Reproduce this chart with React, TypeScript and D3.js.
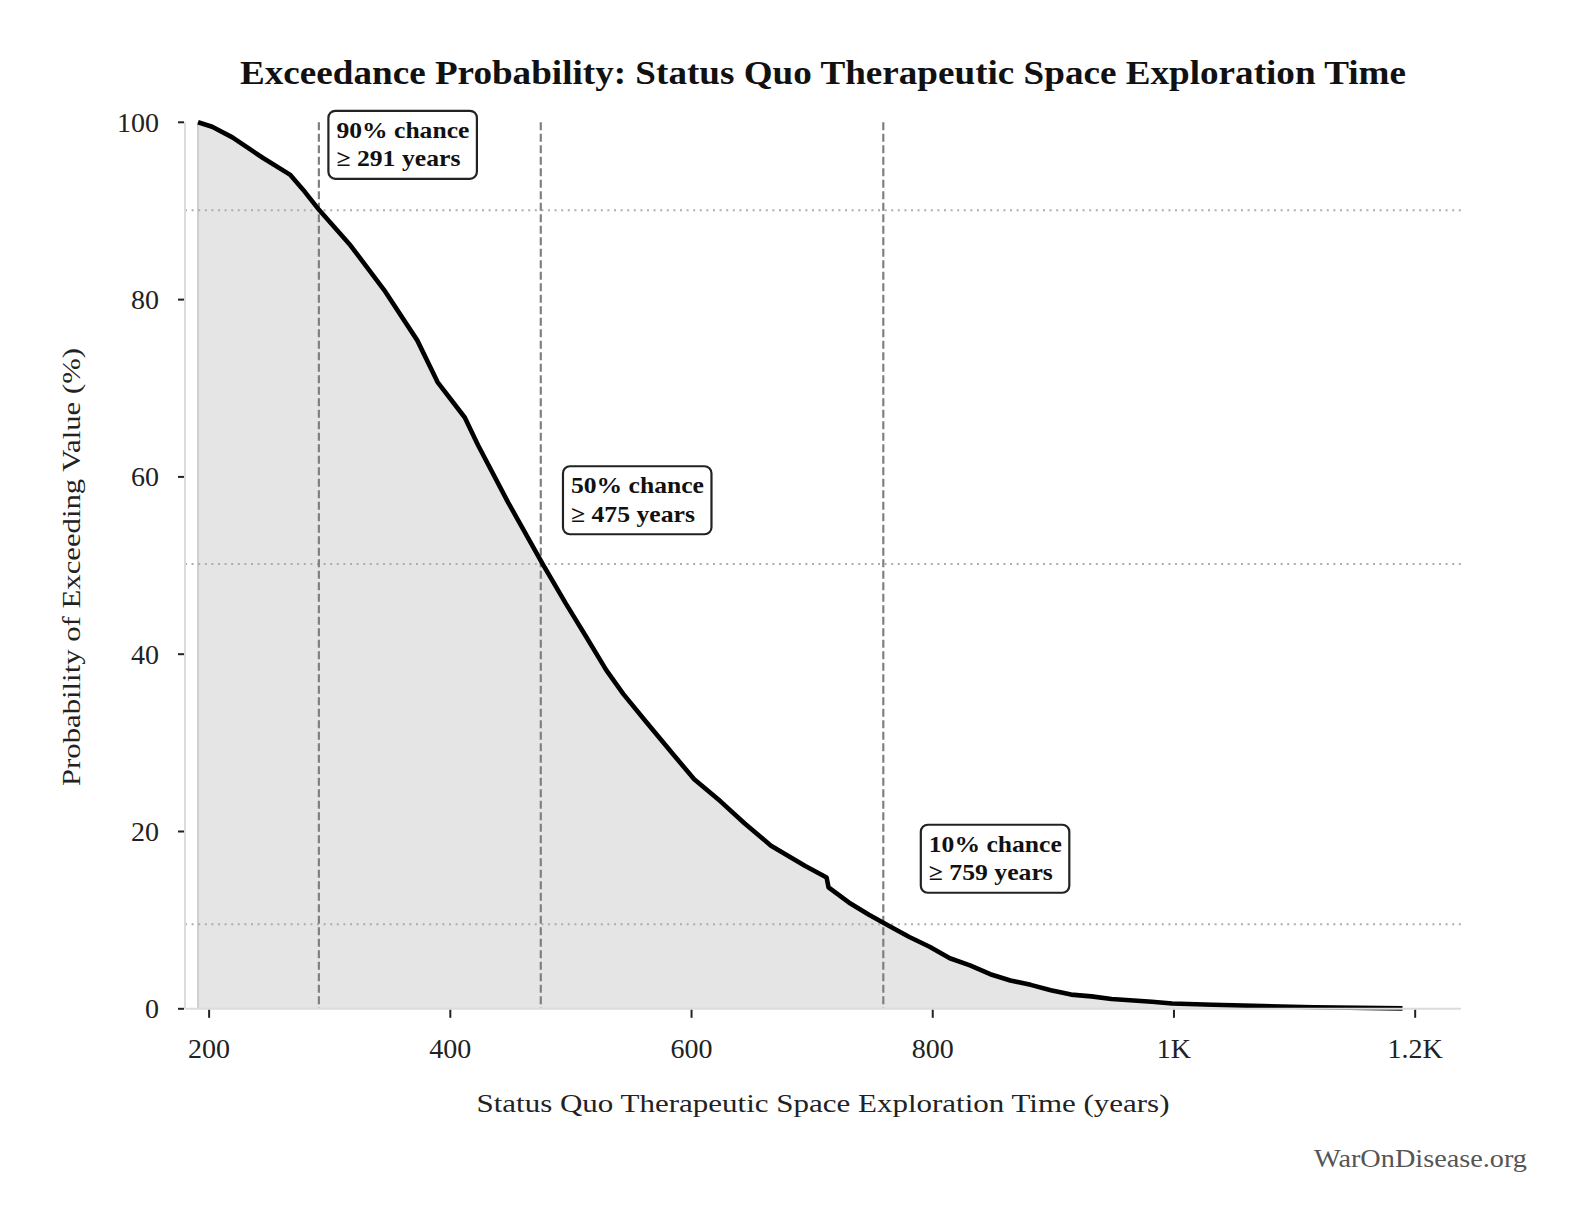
import React, { useEffect, useRef } from 'react';
import * as d3 from 'd3';

// Exceedance curve (years, % exceeding)
const years = [
  190.8, 202.5, 219.3, 244.4, 267.0, 277.9, 291.3, 317.3, 345.0, 372.6,
  389.4, 412.0, 422.9, 448.0, 476.5, 495.8, 512.5, 529.3, 543.5, 562.8,
  585.4, 602.2, 624.0, 644.1, 665.9, 694.3, 712.0, 713.6, 730.4, 747.1,
  760.5, 780.6, 797.4, 814.2, 830.9, 847.7, 864.4, 881.2, 897.9, 914.7,
  931.5, 948.2, 981.7, 998.5, 1032, 1074, 1116, 1189.5,
];
const exceed = [
  100, 99.5, 98.3, 96.0, 94.1, 92.4, 90.1, 86.1, 81.1, 75.4,
  70.7, 66.7, 63.6, 57.1, 50.2, 45.7, 42.0, 38.2, 35.5, 32.3,
  28.6, 25.9, 23.4, 20.9, 18.4, 16.1, 14.8, 13.7, 12.0, 10.6,
  9.6, 8.1, 7.0, 5.7, 4.9, 3.9, 3.2, 2.7, 2.1, 1.6,
  1.4, 1.1, 0.8, 0.6, 0.45, 0.3, 0.17, 0.05,
];

// percentile markers
const markerPct = [90, 50, 10];
const markerYears = [291, 475, 759];
const markerLevel = [90.08, 50.17, 9.54];
const markerBoxAt = [[298.9, 101.3], [493.4, 61.2], [790.1, 20.76]]; // [years, %] of box top-left

const xTicks = [200, 400, 600, 800, 1000, 1200];
const yTicks = [0, 20, 40, 60, 80, 100];

const FONT = '"Liberation Serif", "DejaVu Serif", serif';

const W = 1585;
const H = 1230;
const M = { left: 185, right: 1461, top: 122.3, bottom: 1008.8 };

const fmtX = (v: number) => (v >= 1000 ? d3.format('~s')(v).replace('k', 'K') : String(v));

type Sel = d3.Selection<any, unknown, null, undefined>;

// text helper; len stretches the string to the width seen in the reference
function label(
  parent: Sel,
  o: { x: number; y: number; text: string; size: number; weight?: string; anchor?: string; fill?: string; len?: number },
) {
  const t = parent.append('text')
    .attr('x', o.x).attr('y', o.y)
    .attr('text-anchor', o.anchor ?? 'start')
    .attr('font-family', FONT)
    .attr('font-size', o.size)
    .attr('font-weight', o.weight ?? 'normal')
    .attr('fill', o.fill ?? '#222')
    .text(o.text);
  if (o.len) t.attr('textLength', o.len).attr('lengthAdjust', 'spacingAndGlyphs');
  return t;
}

export default function App() {
  const ref = useRef<SVGSVGElement>(null);

  useEffect(() => {
    if (!ref.current) return;
    const svg = d3.select(ref.current);
    svg.selectAll('*').remove();

    const data = years.map((y, i) => ({ x: y, p: exceed[i] }));

    const x = d3.scaleLinear().domain([180, 1238]).range([M.left, M.right]);
    const y = d3.scaleLinear().domain([0, 100]).range([M.bottom, M.top]);

    svg.append('rect').attr('width', W).attr('height', H).attr('fill', '#fff');

    // area fill
    const area = d3.area<{ x: number; p: number }>()
      .x(d => x(d.x))
      .y0(y(0))
      .y1(d => y(d.p));
    svg.append('path').datum(data).attr('d', area as any).attr('fill', '#e5e5e5');

    // left edge of fill
    svg.append('line')
      .attr('x1', x(years[0])).attr('x2', x(years[0]))
      .attr('y1', y(100)).attr('y2', y(0))
      .attr('stroke', '#cfcfcf').attr('stroke-width', 2);

    // horizontal dotted reference lines
    markerLevel.forEach(l => {
      svg.append('line')
        .attr('x1', M.left).attr('x2', M.right)
        .attr('y1', y(l)).attr('y2', y(l))
        .attr('stroke', '#adadad').attr('stroke-width', 2)
        .attr('stroke-dasharray', '2,4.6');
    });

    // vertical dashed percentile lines
    markerYears.forEach(v => {
      svg.append('line')
        .attr('x1', x(v)).attr('x2', x(v))
        .attr('y1', y(100)).attr('y2', y(0))
        .attr('stroke', '#808080').attr('stroke-width', 2.2)
        .attr('stroke-dasharray', '8,3.5');
    });

    // curve
    const line = d3.line<{ x: number; p: number }>()
      .x(d => x(d.x))
      .y(d => y(d.p));
    svg.append('path').datum(data).attr('d', line as any)
      .attr('fill', 'none').attr('stroke', '#000')
      .attr('stroke-width', 4.6).attr('stroke-linejoin', 'round');

    // spines
    svg.append('line')
      .attr('x1', M.left).attr('x2', M.left).attr('y1', M.top).attr('y2', M.bottom)
      .attr('stroke', '#dcdcdc').attr('stroke-width', 2);
    svg.append('line')
      .attr('x1', M.left).attr('x2', M.right).attr('y1', M.bottom).attr('y2', M.bottom)
      .attr('stroke', '#dcdcdc').attr('stroke-width', 2);

    // y ticks
    const yg = svg.append('g');
    yTicks.forEach(t => {
      yg.append('line')
        .attr('x1', M.left - 7).attr('x2', M.left - 1)
        .attr('y1', y(t)).attr('y2', y(t))
        .attr('stroke', '#222').attr('stroke-width', 2);
      label(yg, { x: 159, y: y(t) + 9.5, text: String(t), size: 28, anchor: 'end' });
    });

    // x ticks
    const xg = svg.append('g');
    xTicks.forEach(t => {
      xg.append('line')
        .attr('x1', x(t)).attr('x2', x(t))
        .attr('y1', M.bottom + 1).attr('y2', M.bottom + 9)
        .attr('stroke', '#222').attr('stroke-width', 2);
      label(xg, { x: x(t), y: 1058, text: fmtX(t), size: 28, anchor: 'middle' });
    });

    // annotation boxes
    markerPct.forEach((p, i) => {
      const [bx, by] = markerBoxAt[i];
      const g = svg.append('g').attr('transform', `translate(${x(bx)},${y(by)})`);
      g.append('rect')
        .attr('width', 148.5).attr('height', 68).attr('rx', 7)
        .attr('fill', '#fff').attr('stroke', '#222').attr('stroke-width', 2.2);
      label(g, { x: 8, y: 27, text: `${p}% chance`, size: 23, weight: 'bold', fill: '#111', len: 133 });
      label(g, { x: 8, y: 55.5, text: `≥ ${markerYears[i]} years`, size: 23, weight: 'bold', fill: '#111', len: 124 });
    });

    // title
    label(svg, {
      x: 823, y: 84, size: 33, weight: 'bold', anchor: 'middle', fill: '#111', len: 1166,
      text: 'Exceedance Probability: Status Quo Therapeutic Space Exploration Time',
    });

    // axis titles
    label(svg, {
      x: 823, y: 1112, size: 26, anchor: 'middle', len: 693,
      text: 'Status Quo Therapeutic Space Exploration Time (years)',
    });
    const yl = svg.append('g').attr('transform', `translate(80,567) rotate(-90)`);
    label(yl, { x: 0, y: 0, size: 26, anchor: 'middle', len: 438, text: 'Probability of Exceeding Value (%)' });

    // watermark
    label(svg, { x: 1527, y: 1167, size: 25, anchor: 'end', fill: '#555', len: 213, text: 'WarOnDisease.org' });
  }, []);

  return (
    <svg
      ref={ref}
      width={W}
      height={H}
      style={{ position: 'absolute', left: 0, top: 0, display: 'block' }}
    />
  );
}
